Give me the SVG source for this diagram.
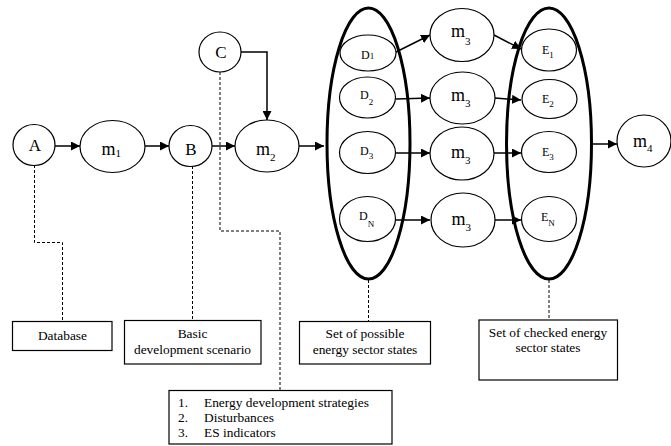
<svg xmlns="http://www.w3.org/2000/svg" width="671" height="446" viewBox="0 0 671 446" font-family="Liberation Serif, Tinos, DejaVu Serif, serif">
<defs>
<marker id="ah" viewBox="0 0 10 10" refX="10" refY="5" markerWidth="9" markerHeight="9" markerUnits="userSpaceOnUse" orient="auto">
<path d="M0,0 L10,5 L0,10 z" fill="#000"/>
</marker>
</defs>
<style>
.n{fill:#fff;stroke:#000;stroke-width:1.2}
.big{fill:none;stroke:#000;stroke-width:3}
.box{fill:#fff;stroke:#000;stroke-width:1.2}
.a{fill:none;stroke:#000;stroke-width:1.5;marker-end:url(#ah)}
.d{fill:none;stroke:#000;stroke-width:1;stroke-dasharray:3,2}
text{font-family:'Liberation Serif','Tinos','DejaVu Serif',serif;fill:#000}
.lbl{font-size:17px;text-anchor:middle}
.m{font-size:18px}
.s{font-size:11px}
.de{font-size:12px}
.ss{font-size:9px}
.bt{font-size:13.4px;text-anchor:middle}
.lt{font-size:13.4px}
</style>
<g id="connectors">
<path class="a" d="M55,146 H80"/>
<path class="a" d="M145,146 H169"/>
<path class="a" d="M212,146 H235"/>
<path class="a" d="M299,146 H324"/>
<path class="a" d="M241,52 H267 V120"/>
<path class="a" d="M396,52 L430,35"/>
<path class="a" d="M494,35 L521,49"/>
<path class="a" d="M396,99 L430,98"/>
<path class="a" d="M495,98 L521,100"/>
<path class="a" d="M396,153 H430"/>
<path class="a" d="M494,153 H521"/>
<path class="a" d="M396,220 H430"/>
<path class="a" d="M495,220 H521"/>
<path class="a" d="M592,144 H617"/>
<path class="d" d="M34.5,165 V242.5 H62.5 V321"/>
<path class="d" d="M192.5,166 V320"/>
<path class="d" d="M220,72 V231 H280 V390"/>
<path class="d" d="M368.5,280 V321"/>
<path class="d" d="M549,280 V320"/>
</g>
<g id="setD"><ellipse class="big" cx="368.5" cy="143.5" rx="41.5" ry="135.5"/></g>
<g id="setE"><ellipse class="big" cx="549" cy="143.5" rx="42.5" ry="135.5"/></g>
<g id="A"><ellipse class="n" cx="34" cy="145" rx="21" ry="20.5"/><text class="lbl" x="35" y="151">A</text></g>
<g id="m1"><ellipse class="n" cx="112.5" cy="146.5" rx="32.5" ry="26"/><text class="m" x="101.5" y="155">m<tspan class="s" dy="2">1</tspan></text></g>
<g id="B"><ellipse class="n" cx="190.5" cy="146" rx="21.5" ry="20.5"/><text class="lbl" x="191" y="155">B</text></g>
<g id="C"><ellipse class="n" cx="220" cy="52" rx="21" ry="20"/><text class="lbl" x="221" y="58">C</text></g>
<g id="m2"><ellipse class="n" cx="267" cy="146" rx="32" ry="26"/><text class="m" x="256" y="155">m<tspan class="s" dy="6">2</tspan></text></g>
<g id="D1"><ellipse class="n" cx="368" cy="53" rx="28" ry="18"/><text class="de" x="361" y="59">D<tspan class="ss">1</tspan></text></g>
<g id="D2"><ellipse class="n" cx="367.5" cy="97.5" rx="28" ry="20.5"/><text class="de" x="360" y="99">D<tspan class="ss" dy="6">2</tspan></text></g>
<g id="D3"><ellipse class="n" cx="367.5" cy="152.5" rx="28" ry="21"/><text class="de" x="360" y="155">D<tspan class="ss" dy="4">3</tspan></text></g>
<g id="DN"><ellipse class="n" cx="367.5" cy="219" rx="28" ry="22.5"/><text class="de" x="359" y="220">D<tspan class="ss" dy="7">N</tspan></text></g>
<g id="m3a"><ellipse class="n" cx="462" cy="35" rx="32" ry="26.5"/><text class="m" x="451" y="37">m<tspan class="s" dy="8">3</tspan></text></g>
<g id="m3b"><ellipse class="n" cx="462.5" cy="98" rx="32.5" ry="26"/><text class="m" x="451" y="101">m<tspan class="s" dy="6">3</tspan></text></g>
<g id="m3c"><ellipse class="n" cx="462" cy="153.5" rx="32" ry="26.5"/><text class="m" x="451" y="158">m<tspan class="s" dy="6">3</tspan></text></g>
<g id="m3d"><ellipse class="n" cx="463" cy="220" rx="32" ry="27"/><text class="m" x="451.5" y="225">m<tspan class="s" dy="6">3</tspan></text></g>
<g id="E1"><ellipse class="n" cx="549" cy="50" rx="27.5" ry="21"/><text class="de" x="542" y="54">E<tspan class="ss" dy="4">1</tspan></text></g>
<g id="E2"><ellipse class="n" cx="549.5" cy="99" rx="27.5" ry="19.5"/><text class="de" x="542" y="103">E<tspan class="ss" dy="4">2</tspan></text></g>
<g id="E3"><ellipse class="n" cx="549" cy="152" rx="27.5" ry="20.5"/><text class="de" x="542" y="156">E<tspan class="ss" dy="4">3</tspan></text></g>
<g id="EN"><ellipse class="n" cx="549" cy="219" rx="27.5" ry="22.5"/><text class="de" x="541" y="221">E<tspan class="ss" dy="5">N</tspan></text></g>
<g id="m4"><ellipse class="n" cx="644" cy="141" rx="27" ry="26"/><text class="m" x="633" y="147">m<tspan class="s" dy="5">4</tspan></text></g>
<g id="database"><rect class="box" x="12.5" y="321.5" width="99.5" height="29"/><text class="bt" x="62.5" y="340">Database</text></g>
<g id="scenario"><rect class="box" x="124.5" y="320.5" width="136.5" height="43.5"/><text class="bt" x="192.5" y="338">Basic</text><text class="bt" x="192.5" y="354">development scenario</text></g>
<g id="possible"><rect class="box" x="299.5" y="321.5" width="131" height="42.5"/><text class="bt" x="365" y="338">Set of possible</text><text class="bt" x="365" y="353.5">energy sector states</text></g>
<g id="checked"><rect class="box" x="479" y="320" width="138.5" height="60"/><text class="bt" x="548" y="336.5">Set of checked energy</text><text class="bt" x="548" y="352">sector states</text></g>
<g id="list"><rect class="box" x="169" y="390.5" width="223" height="53.5"/>
<text class="lt" x="178" y="407">1.</text><text class="lt" x="204" y="407">Energy development strategies</text>
<text class="lt" x="178" y="422">2.</text><text class="lt" x="204" y="422">Disturbances</text>
<text class="lt" x="178" y="437">3.</text><text class="lt" x="204" y="437">ES indicators</text></g>
</svg>
